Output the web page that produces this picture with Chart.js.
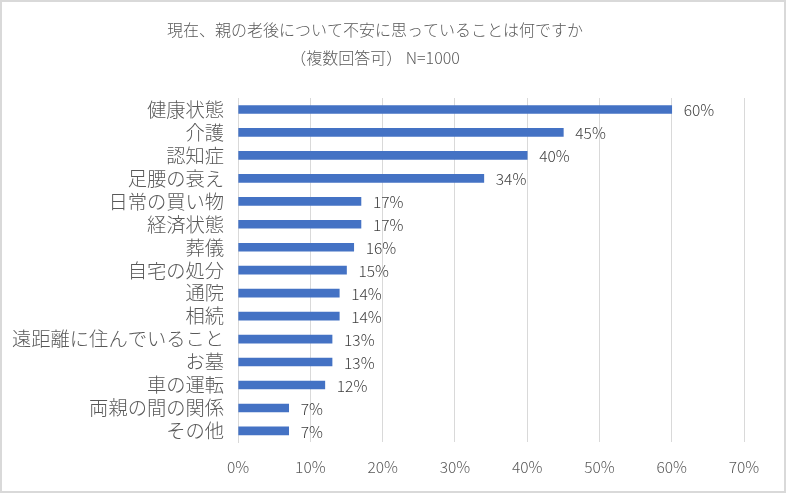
<!DOCTYPE html>
<html>
<head>
<meta charset="utf-8">
<script src="https://cdn.jsdelivr.net/npm/chart.js@4.4.1/dist/chart.umd.min.js"></script>
<style>
    html, body { margin: 0; padding: 0; background: #ffffff; }
    #wrap {
        width: 786px;
        height: 493px;
        box-sizing: border-box;
        border: 2px solid #d9d9d9;
        position: relative;
    }
</style>
</head>
<body>
<div id="wrap">
    <canvas id="chartBar"></canvas>
</div>
<script>
// data
var categories = ['健康状態', '介護', '認知症', '足腰の衰え', '日常の買い物', '経済状態', '葬儀', '自宅の処分', '通院', '相続', '遠距離に住んでいること', 'お墓', '車の運転', '両親の間の関係', 'その他'];
var percentValues = [60, 45, 40, 34, 17, 17, 16, 15, 14, 14, 13, 13, 12, 7, 7];
var titleLines = ['現在、親の老後について不安に思っていることは何ですか', '（複数回答可） N=1000'];

var jpFont = '"Noto Sans CJK JP", "Noto Sans", sans-serif';

// value labels to the right of each bar
var valueLabels = {
    id: 'valueLabels',
    afterDatasetsDraw: function (chart) {
        var ctx = chart.ctx;
        var meta = chart.getDatasetMeta(0);
        ctx.save();
        ctx.font = '300 15.5px ' + jpFont;
        ctx.fillStyle = '#404040';
        ctx.textAlign = 'left';
        ctx.textBaseline = 'middle';
        meta.data.forEach(function (bar, i) {
            ctx.fillText(percentValues[i] + '%', bar.x + 12, bar.y + 1);
        });
        ctx.restore();
    }
};

var ctxBar = document.getElementById('chartBar');
var myBarChart = new Chart(ctxBar, {
    type: 'bar',
    data: {
        labels: categories,
        datasets: [{
            data: percentValues,
            backgroundColor: '#4472C4',
            barThickness: 8
        }]
    },
    options: {
        indexAxis: 'y',
        maintainAspectRatio: false,
        responsive: true,
        animation: false,
        layout: {
            padding: { left: 4, right: 40, top: 0, bottom: 0 }
        },
        plugins: {
            legend: { display: false },
            tooltip: { enabled: false },
            title: {
                display: true,
                text: titleLines,
                color: '#595959',
                font: { family: jpFont, size: 16, weight: '300', lineHeight: 1.75 },
                padding: { top: 14, bottom: 26 }
            }
        },
        scales: {
            x: {
                min: 0,
                max: 70,
                ticks: {
                    stepSize: 10,
                    color: '#595959',
                    font: { family: jpFont, size: 15.5, weight: '300' },
                    padding: 15,
                    callback: function (v) { return v + '%'; }
                },
                grid: {
                    color: '#d9d9d9',
                    drawTicks: false
                },
                border: { display: false }
            },
            y: {
                ticks: {
                    color: '#595959',
                    font: { family: jpFont, size: 19.3, weight: '300' },
                    padding: 6,
                    autoSkip: false
                },
                grid: { display: false },
                border: { display: true, color: '#d9d9d9' }
            }
        }
    },
    plugins: [valueLabels]
});
</script>
</body>
</html>
